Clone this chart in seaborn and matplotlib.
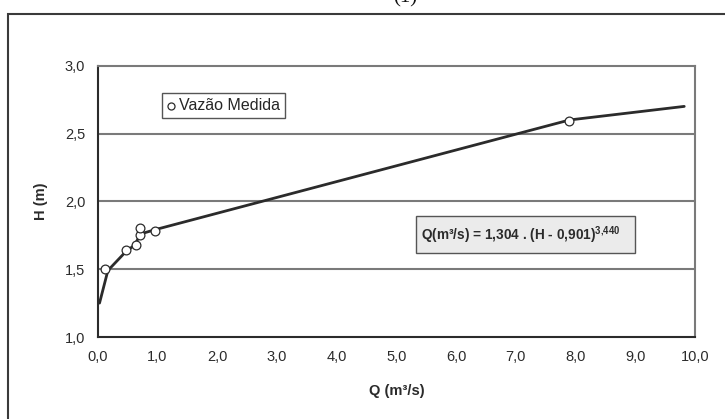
import matplotlib
matplotlib.use("Agg")
import matplotlib.pyplot as plt
from matplotlib.patches import Rectangle
import seaborn as sns
import pandas as pd

# ── Data ───────────────────────────────────────────────────────────────────────
# measured discharges (vazão medida)
Q_MEDIDA = [0.12, 0.47, 0.64, 0.70, 0.70, 0.96, 7.89]
H_MEDIDA = [1.50, 1.64, 1.68, 1.75, 1.80, 1.78, 2.59]

# rating curve vertices as drawn
Q_CURVA = [0.03, 0.17, 0.45, 0.62, 0.72, 0.95, 7.90, 9.82]
H_CURVA = [1.25, 1.49, 1.62, 1.68, 1.76, 1.79, 2.60, 2.70]

X_TICKS = [0, 1, 2, 3, 4, 5, 6, 7, 8, 9, 10]
Y_TICKS = [1.0, 1.5, 2.0, 2.5, 3.0]

EQUACAO = "Q(m³/s) = 1,304 . (H - 0,901)$^{3{,}440}$"

# ── Style ──────────────────────────────────────────────────────────────────────
sns.set_style("white")
plt.rcParams["font.family"] = ["Liberation Sans", "DejaVu Sans"]
plt.rcParams["mathtext.fontset"] = "custom"
plt.rcParams["mathtext.bf"] = "Liberation Sans:bold"
plt.rcParams["mathtext.rm"] = "Liberation Sans:bold"
plt.rcParams["mathtext.default"] = "bf"

DARK = "#2b2b2b"
GRID = "#7a7a7a"

fig = plt.figure(figsize=(7.25, 4.19), dpi=100)
ax = fig.add_axes([0.1348, 0.1957, 0.8238, 0.6475])

curva = pd.DataFrame({"Q": Q_CURVA, "H": H_CURVA})
medida = pd.DataFrame({"Q": Q_MEDIDA, "H": H_MEDIDA})

sns.lineplot(data=curva, x="Q", y="H", ax=ax, color=DARK, lw=2,
             sort=False, legend=False, zorder=3)
sns.scatterplot(data=medida, x="Q", y="H", ax=ax, s=40, color="white",
                edgecolor=DARK, linewidth=0.9, label="Vazão Medida", zorder=4)

ax.set_xlim(0, 10)
ax.set_ylim(1.0, 3.0)
ax.set_xticks(X_TICKS)
ax.set_yticks(Y_TICKS)
ax.set_xticklabels([f"{v:.1f}".replace(".", ",") for v in X_TICKS])
ax.set_yticklabels([f"{v:.1f}".replace(".", ",") for v in Y_TICKS])
ax.tick_params(axis="both", labelsize=10.5, colors=DARK, length=4, width=1,
               direction="out", pad=5)
ax.tick_params(axis="x", direction="inout", length=5, pad=7)

for y in [1.5, 2.0, 2.5]:
    ax.axhline(y, color=GRID, lw=1.5, zorder=1)

for side in ["left", "bottom"]:
    ax.spines[side].set_color(DARK)
    ax.spines[side].set_linewidth(1.5)
for side in ["top", "right"]:
    ax.spines[side].set_visible(True)
    ax.spines[side].set_color(GRID)
    ax.spines[side].set_linewidth(1.5)

ax.set_xlabel("Q (m³/s)", fontsize=10.5, fontweight="bold", color=DARK, labelpad=14)
ax.set_ylabel("H (m)", fontsize=10.5, fontweight="bold", color=DARK, labelpad=12)

leg = ax.legend(loc="upper left", bbox_to_anchor=(0.1077, 0.899), borderaxespad=0,
                frameon=True, fancybox=False, fontsize=11.5, handlelength=0.5,
                handletextpad=0.25, borderpad=0.3, markerscale=0.8)
leg.get_frame().set_edgecolor(DARK)
leg.get_frame().set_linewidth(1.0)

# equation box
ax.add_patch(Rectangle((0.533, 0.31), 0.3667, 0.135, transform=ax.transAxes,
                       facecolor="#ebebeb", edgecolor="#555555", lw=1.0, zorder=5))
ax.text(0.542, 0.377, EQUACAO, transform=ax.transAxes, fontsize=9.8,
        fontweight="bold", color=DARK, va="center", ha="left", zorder=6)

# outer chart frame (cut by the image edge)
fig.patches.append(Rectangle((7.5 / 725, -0.05), 1.2, 1.0166, transform=fig.transFigure,
                             fill=False, edgecolor="#3a3a3a", lw=1.5))
fig.text(405 / 725, 1.0 + 2 / 419, "(1)", family="Liberation Serif", fontsize=15,
         ha="center", va="center", color="#111111")

fig.savefig("out.png", dpi=100)
